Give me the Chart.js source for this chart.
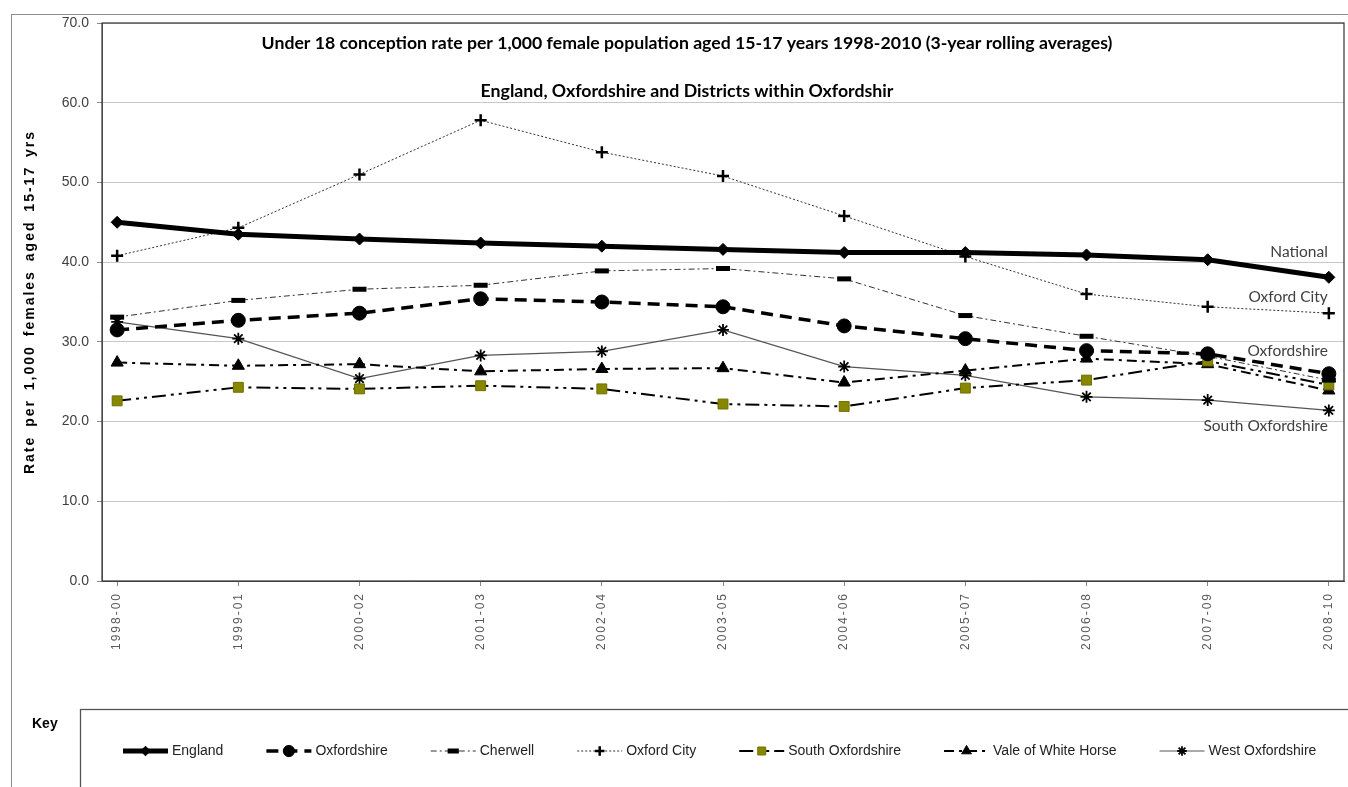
<!DOCTYPE html>
<html>
<head>
<meta charset="utf-8">
<script src="https://cdn.jsdelivr.net/npm/chart.js"></script>
<style>
html, body { margin: 0; padding: 0; background: #fff; }
#wrap { position: relative; width: 1348px; height: 787px; }
</style>
</head>
<body>
<div id="wrap"><canvas id="chart"></canvas></div>
<script>
// data
const categories = ['1998-00', '1999-01', '2000-02', '2001-03', '2002-04', '2003-05',
                    '2004-06', '2005-07', '2006-08', '2007-09', '2008-10'];
const england          = [45.0, 43.5, 42.9, 42.4, 42.0, 41.6, 41.2, 41.2, 40.9, 40.3, 38.1];
const oxfordshire      = [31.5, 32.7, 33.6, 35.4, 35.0, 34.4, 32.0, 30.4, 28.9, 28.5, 26.0];
const cherwell         = [33.1, 35.2, 36.6, 37.1, 38.9, 39.2, 37.9, 33.3, 30.7, 28.2, 25.2];
const oxfordCity       = [40.8, 44.3, 51.0, 57.8, 53.8, 50.8, 45.8, 40.7, 36.0, 34.4, 33.6];
const southOxfordshire = [22.6, 24.3, 24.1, 24.5, 24.1, 22.2, 21.9, 24.2, 25.2, 27.6, 24.6];
const valeWhiteHorse   = [27.4, 27.0, 27.2, 26.3, 26.6, 26.7, 24.9, 26.4, 27.9, 27.2, 23.9];
const westOxfordshire  = [32.5, 30.4, 25.4, 28.3, 28.8, 31.5, 26.9, 25.8, 23.1, 22.7, 21.4];
const yTicks = [0, 10, 20, 30, 40, 50, 60, 70];

const titleText = 'Under 18 conception rate per 1,000 female population aged 15-17 years 1998-2010 (3-year rolling averages)';
const subtitleText = 'England, Oxfordshire and Districts within Oxfordshir';
const yTitle = 'Rate per 1,000 females aged 15-17 yrs';
// labels at the right end of the plot, placed at a value on the y axis
const endLabels = [
    { text: 'National', at: 41.3 },
    { text: 'Oxford City', at: 35.6 },
    { text: 'Oxfordshire', at: 28.9 },
    { text: 'South Oxfordshire', at: 19.5 }
];

const toPoints = arr => arr.map((v, i) => ({ x: i, y: v }));

function series(label, values, style) {
    return Object.assign({
        label: label,
        data: toPoints(values),
        borderColor: '#000',
        pointBackgroundColor: '#000',
        pointBorderColor: '#000',
        pointBorderWidth: 1,
        tension: 0,
        fill: false
    }, style);
}

const datasets = [
    series('England', england, { borderWidth: 5, pointStyle: 'rectRot', pointRadius: 6 }),
    series('Oxfordshire', oxfordshire, { borderWidth: 3.5, borderDash: [12, 7], pointStyle: 'circle', pointRadius: 7 }),
    series('Cherwell', cherwell, { borderWidth: 1, borderColor: '#333', borderDash: [6, 3, 2, 3],
        pointStyle: 'line', pointRadius: 7, pointBorderWidth: 5 }),
    series('Oxford City', oxfordCity, { borderWidth: 1, borderColor: '#333', borderDash: [2, 2],
        pointStyle: 'cross', pointRadius: 6, pointBorderWidth: 2.5 }),
    series('South Oxfordshire', southOxfordshire, { borderWidth: 2, borderDash: [14, 5, 3, 5, 3, 5],
        pointStyle: 'rect', pointRadius: 7, pointBackgroundColor: '#878700', pointBorderColor: '#6f6f00' }),
    series('Vale of White Horse', valeWhiteHorse, { borderWidth: 2, borderDash: [10, 5, 3, 5],
        pointStyle: 'triangle', pointRadius: 7 }),
    series('West Oxfordshire', westOxfordshire, { borderWidth: 1.2, borderColor: '#555',
        pointStyle: 'star', pointRadius: 6, pointBorderWidth: 1.8 })
];

const ARIAL = '"Liberation Sans", Arial, sans-serif';
const CALIBRI = 'Lato, "Open Sans", sans-serif';

function fitFont(ctx, text, width, weight, family) {
    ctx.font = weight + ' 20px ' + family;
    const size = 20 * width / ctx.measureText(text).width;
    return weight + ' ' + size.toFixed(2) + 'px ' + family;
}

function spaced(fn, letters, words) {
    return function (arg) {
        const c = this.ctx;
        c.save();
        c.letterSpacing = letters;
        c.wordSpacing = words;
        fn.call(this, arg);
        c.restore();
    };
}

const decorations = {
    id: 'decorations',
    afterUpdate(chart) {
        const xs = chart.scales.x, ys = chart.scales.y;
        if (!xs._spaced) { xs.drawLabels = spaced(xs.drawLabels, '2px', '0px'); xs._spaced = true; }
        if (!ys._spaced) { ys.drawTitle = spaced(ys.drawTitle, '2px', '3px'); ys._spaced = true; }
    },
    beforeDraw(chart) {
        const ctx = chart.ctx;
        ctx.save();
        ctx.fillStyle = '#fff';
        ctx.fillRect(0, 0, chart.width, chart.height);
        ctx.strokeStyle = '#8c8c8c';
        ctx.lineWidth = 1;
        ctx.strokeRect(11.5, 14.5, chart.width + 20, chart.height + 20);
        ctx.restore();
    },
    afterDraw(chart) {
        const ctx = chart.ctx;
        const a = chart.chartArea;
        const ys = chart.scales.y, xs = chart.scales.x;
        ctx.save();

        // plot frame
        ctx.strokeStyle = '#333';
        ctx.lineWidth = 1.2;
        ctx.strokeRect(a.left, a.top, a.right - a.left, a.bottom - a.top);

        // titles inside the plot
        ctx.fillStyle = '#000';
        ctx.textAlign = 'center';
        ctx.textBaseline = 'middle';
        ctx.font = fitFont(ctx, titleText, 851, 'bold', CALIBRI);
        ctx.fillText(titleText, 687, 43);
        ctx.font = fitFont(ctx, subtitleText, 413, 'bold', CALIBRI);
        ctx.fillText(subtitleText, 687, 91);

        // labels at the right end
        ctx.fillStyle = '#404040';
        ctx.textAlign = 'right';
        ctx.font = '15.5px ' + CALIBRI;
        const rx = xs.getPixelForValue(categories.length - 1) - 1;
        endLabels.forEach(l => ctx.fillText(l.text, rx, ys.getPixelForValue(l.at)));

        // key box
        ctx.strokeStyle = '#555';
        ctx.lineWidth = 1.3;
        ctx.strokeRect(80.5, 709.5, chart.width, 200);
        ctx.fillStyle = '#000';
        ctx.textAlign = 'left';
        ctx.font = 'bold 14px ' + ARIAL;
        ctx.fillText('Key', 32, 724);

        ctx.font = '14px ' + ARIAL;
        let x = 123;
        const y = 751;
        const sample = 45;
        chart.data.datasets.forEach(ds => {
            ctx.save();
            ctx.strokeStyle = ds.borderColor;
            ctx.lineWidth = ds.borderWidth;
            ctx.setLineDash(ds.borderDash || []);
            ctx.beginPath();
            ctx.moveTo(x, y);
            ctx.lineTo(x + sample, y);
            ctx.stroke();
            ctx.setLineDash([]);
            ctx.fillStyle = ds.pointBackgroundColor;
            ctx.strokeStyle = ds.pointBorderColor;
            ctx.lineWidth = ds.pointBorderWidth;
            if (Chart.helpers && Chart.helpers.drawPoint) {
                Chart.helpers.drawPoint(ctx, {
                    pointStyle: ds.pointStyle, radius: ds.pointRadius * 0.8,
                    borderWidth: ds.pointBorderWidth, rotation: 0
                }, x + sample / 2, y);
            }
            ctx.restore();
            ctx.fillStyle = '#222';
            ctx.textAlign = 'left';
            ctx.textBaseline = 'middle';
            ctx.fillText(ds.label, x + sample + 4, y);
            x += sample + 4 + ctx.measureText(ds.label).width + 43;
        });
        ctx.restore();
    }
};

const pad = 0.125;

new Chart(document.getElementById('chart'), {
    type: 'line',
    data: { datasets: datasets },
    options: {
        responsive: true,
        maintainAspectRatio: false,
        animation: false,
        layout: { autoPadding: false, padding: { top: 23, right: 4, left: 0, bottom: 0 } },
        plugins: {
            legend: { display: false },
            tooltip: { enabled: false }
        },
        scales: {
            x: {
                type: 'linear',
                min: -pad,
                max: categories.length - 1 + pad,
                afterBuildTicks: axis => { axis.ticks = categories.map((c, i) => ({ value: i })); },
                afterFit: scale => { scale.height = 206; scale.paddingLeft = 0; scale.paddingRight = 0; },
                ticks: {
                    autoSkip: false,
                    maxRotation: 90,
                    minRotation: 90,
                    padding: 6,
                    color: '#595959',
                    font: { family: ARIAL, size: 12 },
                    callback: v => categories[v] !== undefined ? categories[v] : ''
                },
                grid: { drawOnChartArea: false, drawTicks: true, tickLength: 5, tickColor: '#888' },
                border: { color: '#555' }
            },
            y: {
                min: 0,
                max: 70,
                afterBuildTicks: axis => { axis.ticks = yTicks.map(v => ({ value: v })); },
                afterFit: scale => { scale.width = 102; scale.paddingTop = 0; scale.paddingBottom = 0; },
                ticks: {
                    padding: 8,
                    color: '#404040',
                    font: { family: ARIAL, size: 14 },
                    callback: v => v.toFixed(1)
                },
                grid: { color: '#c8c8c8', lineWidth: 1, tickLength: 5, tickColor: '#888' },
                border: { color: '#777' },
                title: {
                    display: true,
                    text: yTitle,
                    color: '#000',
                    font: { family: ARIAL, size: 14, weight: 'bold' },
                    padding: { top: 22, bottom: 0 }
                }
            }
        }
    },
    plugins: [decorations]
});
</script>
</body>
</html>
